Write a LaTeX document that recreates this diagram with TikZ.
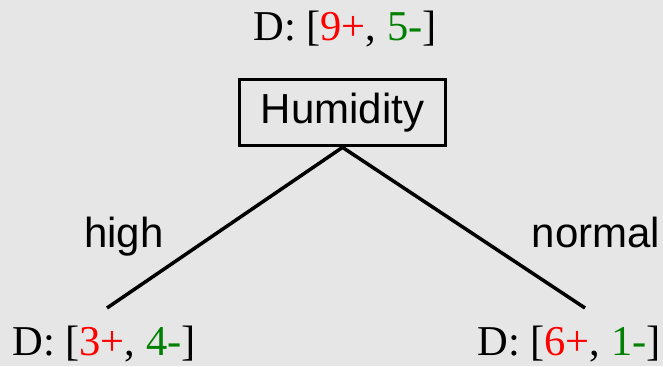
\documentclass[tikz,border=0pt]{standalone}
\usepackage{fontspec}
\setmainfont{Liberation Serif}
\newfontfamily\arialfont{Liberation Sans}
\usepackage{tikz}
\usetikzlibrary{positioning}
\definecolor{bggray}{RGB}{230,230,230}
\definecolor{posred}{RGB}{255,0,0}
\definecolor{neggreen}{RGB}{0,128,0}
\newcommand{\dcount}[2]{D: [\textcolor{posred}{#1+}, \textcolor{neggreen}{#2-}]}
\tikzset{
	bigtext/.style={font=\fontsize{24.2}{28}\selectfont, inner sep=0pt},
	sanstext/.style={font=\arialfont\fontsize{23.9}{28}\selectfont, inner sep=0pt},
	attrbox/.style={sanstext, draw, line width=0.075cm, minimum width=4.12cm, minimum height=1.32cm},
	branch/.style={line width=0.07cm}
}
\begin{document}
\begin{tikzpicture}[x=0.02cm, y=-0.02cm]
				\fill[bggray] (0,0) rectangle (663,366);
				\useasboundingbox (0,0) rectangle (663,366);
				% root
				\node[bigtext, anchor=base] (rootset) at (345,40) {\dcount{9}{5}};
				\node[attrbox] (hum) at (342.5,112.5) {Humidity};
				% branches
				\coordinate (highend) at (107,308);
				\coordinate (normend) at (585,308);
				\draw[branch] (hum.south) -- (highend);
				\draw[branch] (hum.south) -- (normend);
				\node[sanstext, anchor=base] (high) at (124,247) {high};
				\node[sanstext, anchor=base] (normal) at (596,247) {normal};
				% leaves
				\node[bigtext, anchor=base] (highset) at (104,355) {\dcount{3}{4}};
				\node[bigtext, anchor=base] (normset) at (569,355) {\dcount{6}{1}};
\end{tikzpicture}
\end{document}
